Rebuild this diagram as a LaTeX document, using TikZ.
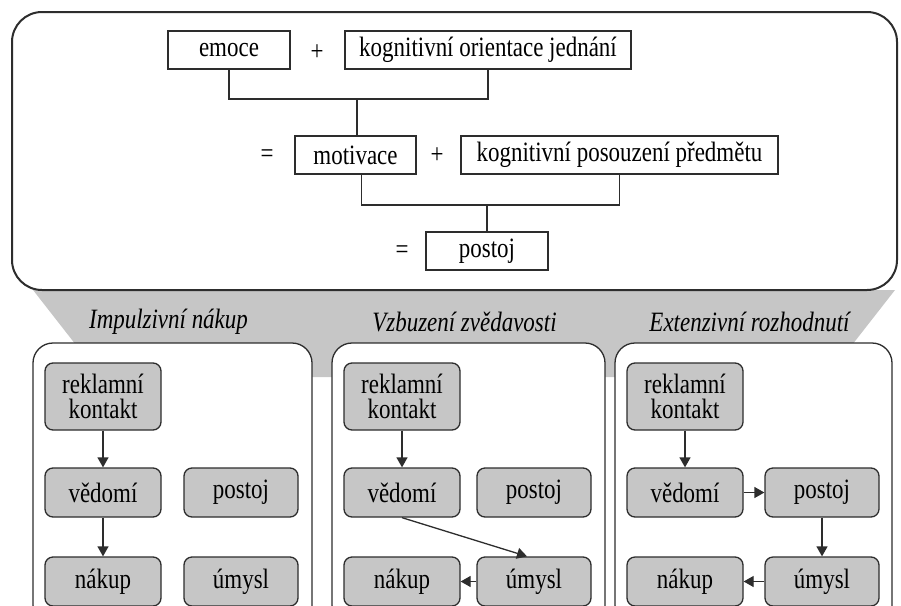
\documentclass[tikz,border=0pt]{standalone}
\usepackage{fontspec}
\setmainfont{Liberation Serif}[FakeStretch=0.82]
\usetikzlibrary{positioning,arrows.meta}
\definecolor{boxgray}{RGB}{198,198,198}
\definecolor{linegray}{RGB}{45,45,45}

\begin{document}
\begin{tikzpicture}[x=1pt,y=-1pt,>={Triangle[length=10pt,width=11pt]},
    font=\fontsize{28}{25}\selectfont,
    term/.style={draw=linegray,line width=1.3pt,fill=white,minimum height=38pt,inner sep=0pt},
    stage/.style={draw=linegray,line width=1.3pt,fill=boxgray,rounded corners=8pt,minimum width=116pt,inner sep=0pt,align=center},
    link/.style={draw=linegray,line width=1.3pt}]
            \useasboundingbox (0,0) rectangle (901,605);
            \clip (0,0) rectangle (901,605);
            % grey band and the formula box
            \fill[boxgray] (33,290)--(895,290)--(827,377)--(101,377)--cycle;
            \draw[line width=2pt,draw=linegray,fill=white,rounded corners=30pt] (12,12) rectangle (897,290);
            \node[term,minimum width=122pt] (emoce) at (229,50) {emoce};
            \node[term,minimum width=286pt] (orient) at (488,50) {kognitivní orientace jednání};
            \node[term,minimum width=121pt] (motiv) at (355.5,155) {motivace};
            \node[term,minimum width=317pt] (posouz) at (619.5,155) {kognitivní posouzení předmětu};
            \node[term,minimum width=122pt] (postoj) at (487,251) {postoj};
            \node (plus1) at (317,53) {+};
            \node (eq1) at (267,156) {=};
            \node (plus2) at (437,156) {+};
            \node (eq2) at (402,252) {=};
            \coordinate (j1) at (357,99);
            \coordinate (j2) at (487,205);
            \draw[link] (emoce.south) |- (j1) -| (orient.south);
            \draw[link] (j1) -- (j1 |- motiv.north);
            \draw[link] ([xshift=6pt]motiv.south) |- (j2) -| (posouz.south);
            \draw[link] (j2) -- (postoj.north);
            % three ways
            \foreach \p/\l/\r/\c/\lab in {1/33/312/208/Impulzivní nákup,2/332/605/202/Vzbuzení zvědavosti,3/615/892/207/Extenzivní rozhodnutí}{
                \draw[link,fill=white,rounded corners=20pt] (\l,343) rectangle (\r,625);
                \node[font=\fontsize{28}{25}\selectfont\itshape] (lab\p) at ({(\l+\r)/2-4},322) {\lab};
                \node[stage,minimum height=67pt] (rek\p) at (\l+70,396.5) {reklamní\\kontakt};
                \node[stage,minimum height=49pt] (ved\p) at (\l+70,492.5) {vědomí};
                \node[stage,minimum height=49pt,minimum width=114pt] (pos\p) at (\l+\c,492.5) {postoj};
                \node[stage,minimum height=49pt] (nak\p) at (\l+70,581.5) {nákup};
                \node[stage,minimum height=49pt,minimum width=114pt] (umy\p) at (\l+\c,581.5) {úmysl};
                \draw[link,->] (rek\p) -- (ved\p);
            }
            \draw[link,->] (ved1) -- (nak1);
            \draw[link,->] (ved2.south) -- ([xshift=-7pt]umy2.north);
            \draw[link,->] (umy2) -- (nak2);
            \draw[link,->] (ved3) -- (pos3);
            \draw[link,->] (pos3) -- (umy3);
            \draw[link,->] (umy3) -- (nak3);
        \end{tikzpicture}
\end{document}
